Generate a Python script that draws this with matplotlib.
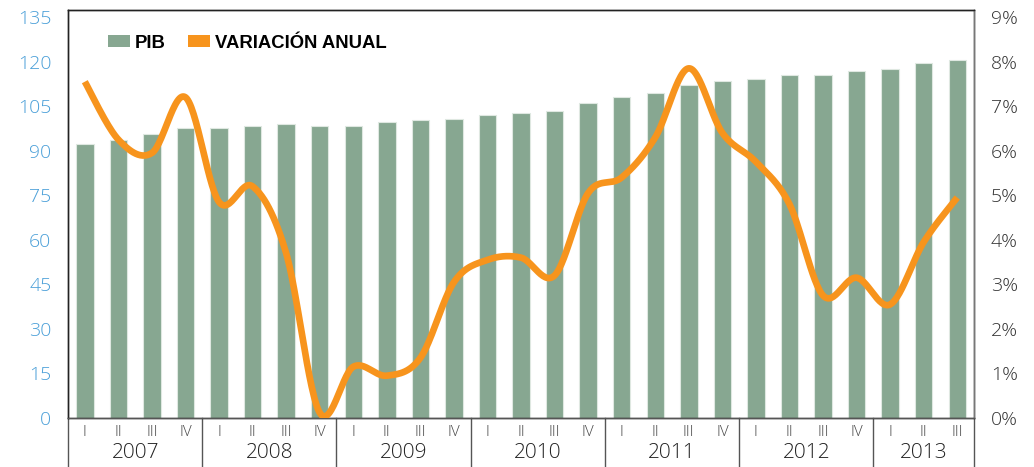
import numpy as np
import matplotlib.pyplot as plt
from matplotlib.patches import Patch
from matplotlib.transforms import blended_transform_factory

# datos trimestrales 2007-I a 2013-III
anios = ['2007', '2008', '2009', '2010', '2011', '2012', '2013']
trimestres = ['I', 'II', 'III', 'IV'] * 6 + ['I', 'II', 'III']
pib = [92.2, 93.6, 95.5, 97.5, 97.5, 98.2, 98.9, 98.2, 98.2, 99.6, 100.2, 100.8,
       102.2, 102.8, 103.5, 106.2, 108.1, 109.5, 112.0, 113.4,
       114.1, 115.4, 115.4, 116.7, 117.4, 119.4, 120.7]
variacion = [7.55, 6.25, 5.95, 7.2, 4.85, 5.2, 3.7, 0.12, 1.15, 0.95, 1.35, 3.05,
             3.55, 3.6, 3.2, 5.05, 5.4, 6.3, 7.85, 6.4,
             5.75, 4.8, 2.75, 3.15, 2.55, 3.95, 4.95]

VERDE = '#87a791'
NARANJA = '#f7941d'


def suavizar(x, y, n=30):
    # curva suavizada tipo Excel (bezier con tangentes catmull-rom)
    x = np.asarray(x, float)
    y = np.asarray(y, float)
    px = np.concatenate([[x[0]], x, [x[-1]]])
    py = np.concatenate([[y[0]], y, [y[-1]]])
    xs, ys = [], []
    t = np.linspace(0, 1, n)
    for i in range(1, len(px) - 2):
        x0, x1, x2, x3 = px[i - 1:i + 3]
        y0, y1, y2, y3 = py[i - 1:i + 3]
        c1x, c1y = x1 + (x2 - x0) / 6, y1 + (y2 - y0) / 6
        c2x, c2y = x2 - (x3 - x1) / 6, y2 - (y3 - y1) / 6
        b0, b1, b2, b3 = (1 - t) ** 3, 3 * t * (1 - t) ** 2, 3 * t ** 2 * (1 - t), t ** 3
        xs.append(b0 * x1 + b1 * c1x + b2 * c2x + b3 * x2)
        ys.append(b0 * y1 + b1 * c1y + b2 * c2y + b3 * y2)
    return np.concatenate(xs), np.concatenate(ys)


plt.rcParams['font.family'] = ['Open Sans', 'DejaVu Sans']
plt.rcParams['font.weight'] = 'light'

fig = plt.figure(figsize=(10.34, 4.67), dpi=100)
ax = fig.add_axes([0.0658, 0.1049, 0.8762, 0.8737])
x = np.arange(len(pib))

ax.bar(x, pib, width=0.52, color=VERDE, edgecolor='#dfe8e1', linewidth=0.8, zorder=2)
ax.set_xlim(-0.5, len(pib) - 0.5)
ax.set_ylim(0, 137.4)
ax.set_yticks(np.arange(0, 136, 15))
ax.tick_params(axis='y', length=0, labelsize=14, labelcolor='#4a9fd8', pad=12)
ax.set_xticks(x)
ax.set_xticklabels(trimestres)
ax.tick_params(axis='x', length=0, labelsize=11, labelcolor='#444444', pad=5)

ax2 = ax.twinx()
ax2.set_ylim(0, 9.16)
ax2.set_yticks(range(10))
ax2.set_yticklabels([f'{v}%' for v in range(10)])
ax2.tick_params(axis='y', length=0, labelsize=14, labelcolor='#333333', pad=12)
sx, sy = suavizar(x, variacion)
ax2.plot(sx, sy, color=NARANJA, lw=4.8, solid_capstyle='butt', zorder=3)

for a in (ax, ax2):
    for s in a.spines.values():
        s.set_linewidth(1.0)
        s.set_color('#222222')
ax2.spines['right'].set_color('#777777')
ax2.spines['bottom'].set_color('#555555')

# separadores de año y etiquetas de año
tr = blended_transform_factory(ax.transData, ax.transAxes)
bordes = [-0.5, 3.5, 7.5, 11.5, 15.5, 19.5, 23.5, 26.5]
for b in bordes:
    ax.plot([b, b], [0, -0.12], transform=tr, color='#555555', lw=1.0, clip_on=False)
for i, a in enumerate(anios):
    centro = (bordes[i] + bordes[i + 1]) / 2
    ax.text(centro, -0.085, a, transform=tr, ha='center', va='center',
            fontsize=15, color='#222222')

handles = [Patch(facecolor=VERDE, edgecolor='none'), Patch(facecolor=NARANJA, edgecolor='none')]
leg = ax.legend(handles, ['PIB', 'VARIACIÓN ANUAL'], loc='upper left', ncol=2,
                bbox_to_anchor=(0.026, 0.98), frameon=False, handlelength=1.2,
                handleheight=0.6, handletextpad=0.25, columnspacing=1.2,
                prop={'family': 'Liberation Sans', 'weight': 'bold', 'size': 13.3})

fig.savefig('out.png', dpi=100)
